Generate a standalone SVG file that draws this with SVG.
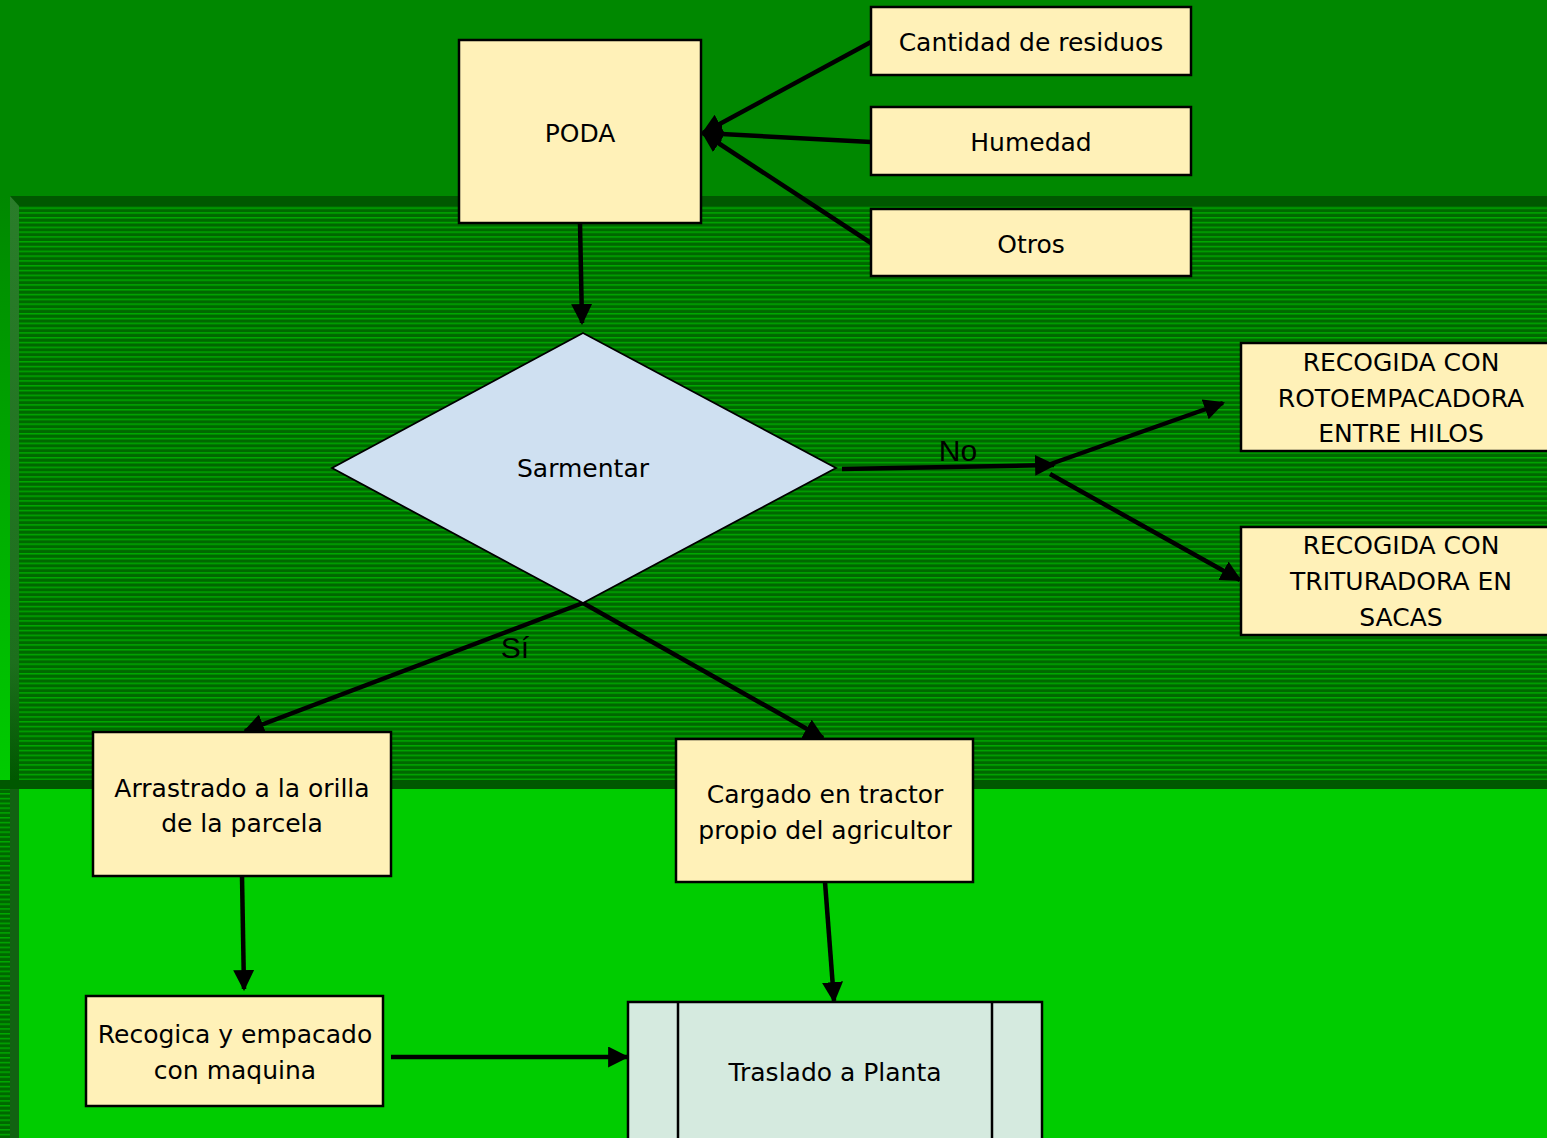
<svg xmlns="http://www.w3.org/2000/svg" width="1547" height="1138" viewBox="0 0 1547 1138">
<defs>
<style>
.box{fill:#fff1b8;stroke:#000;stroke-width:2.5}
.t{font-family:"DejaVu Sans",Verdana,sans-serif;font-size:25px;fill:#000;text-anchor:middle}
.lbl{font-family:"Liberation Sans",Arial,sans-serif;font-size:30px;fill:#000;text-anchor:middle}
.c{fill:none;stroke:#000;stroke-width:4.5}
</style>
<marker id="ah" viewBox="0 0 10 10" refX="9" refY="5" markerWidth="21" markerHeight="21" markerUnits="userSpaceOnUse" orient="auto">
<path d="M0,0 L10,5 L0,10 z" fill="#000"/>
</marker>
<pattern id="stripes" width="20" height="4.8" patternUnits="userSpaceOnUse" y="1">
<rect width="20" height="4.8" fill="#006800"/>
<rect y="0" width="20" height="1.5" fill="#00a800"/>
</pattern>
<linearGradient id="leftg" x1="0" y1="0" x2="0" y2="1">
<stop offset="0" stop-color="#008800"/>
<stop offset="1" stop-color="#00cc00"/>
</linearGradient>
<linearGradient id="stripg" x1="0" y1="0" x2="0" y2="1">
<stop offset="0" stop-color="#2a7d2a"/>
<stop offset="0.8" stop-color="#1d6f1d"/>
<stop offset="1" stop-color="#005800"/>
</linearGradient>
</defs>
<g id="background">
<rect x="0" y="0" width="1547" height="1138" fill="#00cc00"/>
<rect x="0" y="0" width="1547" height="196" fill="#008800"/>
<rect x="0" y="196" width="10" height="584" fill="url(#leftg)"/>
<rect x="10" y="196" width="1537" height="10" fill="#005800"/>
<rect x="19" y="206" width="1528" height="574" fill="url(#stripes)"/>
<polygon points="10,196 19,206 19,780 10,780" fill="url(#stripg)"/>
<rect x="0" y="780" width="1547" height="9" fill="#005800"/>
<rect x="0" y="789" width="10" height="349" fill="url(#stripes)"/>
<rect x="10" y="789" width="9" height="349" fill="#126212"/>
</g>
<g id="connectors">
<line class="c" x1="871" y1="42" x2="703" y2="133" marker-end="url(#ah)"/>
<line class="c" x1="871" y1="142" x2="703" y2="133" marker-end="url(#ah)"/>
<line class="c" x1="871" y1="243" x2="703" y2="133" marker-end="url(#ah)"/>
<line class="c" x1="580" y1="223" x2="582" y2="323" marker-end="url(#ah)"/>
<line class="c" x1="842" y1="469" x2="1054" y2="465" marker-end="url(#ah)"/>
<line class="c" x1="1045" y1="466" x2="1223" y2="403" marker-end="url(#ah)"/>
<line class="c" x1="1050" y1="474" x2="1240" y2="580" marker-end="url(#ah)"/>
<line class="c" x1="583" y1="603" x2="245" y2="731" marker-end="url(#ah)"/>
<line class="c" x1="583" y1="603" x2="823" y2="738" marker-end="url(#ah)"/>
<line class="c" x1="242" y1="876" x2="244" y2="989" marker-end="url(#ah)"/>
<line class="c" x1="391" y1="1057" x2="627" y2="1057" marker-end="url(#ah)"/>
<line class="c" x1="825" y1="882" x2="834" y2="1001" marker-end="url(#ah)"/>
<text class="lbl" x="958" y="461">No</text>
<text class="lbl" x="515" y="658">Sí</text>
</g>
<g id="poda">
<rect class="box" x="459" y="40" width="242" height="183"/>
<text class="t" x="580" y="142">PODA</text>
</g>
<g id="cantidad">
<rect class="box" x="871" y="7" width="320" height="68"/>
<text class="t" x="1031" y="51">Cantidad de residuos</text>
</g>
<g id="humedad">
<rect class="box" x="871" y="107" width="320" height="68"/>
<text class="t" x="1031" y="151">Humedad</text>
</g>
<g id="otros">
<rect class="box" x="871" y="209" width="320" height="67"/>
<text class="t" x="1031" y="253">Otros</text>
</g>
<g id="sarmentar">
<polygon points="583,333 836,468 583,603 332,468" fill="#cfe0f1" stroke="#000" stroke-width="1.8"/>
<text class="t" x="583" y="477">Sarmentar</text>
</g>
<g id="rotoempacadora">
<rect class="box" x="1241" y="343" width="310" height="108"/>
<text class="t" x="1401" y="371">RECOGIDA CON</text>
<text class="t" x="1401" y="407">ROTOEMPACADORA</text>
<text class="t" x="1401" y="442">ENTRE HILOS</text>
</g>
<g id="trituradora">
<rect class="box" x="1241" y="527" width="310" height="108"/>
<text class="t" x="1401" y="554">RECOGIDA CON</text>
<text class="t" x="1401" y="590">TRITURADORA EN</text>
<text class="t" x="1401" y="626">SACAS</text>
</g>
<g id="arrastrado">
<rect class="box" x="93" y="732" width="298" height="144"/>
<text class="t" x="242" y="797">Arrastrado a la orilla</text>
<text class="t" x="242" y="832">de la parcela</text>
</g>
<g id="cargado">
<rect class="box" x="676" y="739" width="297" height="143"/>
<text class="t" x="825" y="803">Cargado en tractor</text>
<text class="t" x="825" y="839">propio del agricultor</text>
</g>
<g id="recogica">
<rect class="box" x="86" y="996" width="297" height="110"/>
<text class="t" x="235" y="1043">Recogica y empacado</text>
<text class="t" x="235" y="1079">con maquina</text>
</g>
<g id="traslado">
<rect x="628" y="1002" width="414" height="150" fill="#d5eadf" stroke="#000" stroke-width="2.5"/>
<line x1="678" y1="1002" x2="678" y2="1138" stroke="#000" stroke-width="2.5"/>
<line x1="992" y1="1002" x2="992" y2="1138" stroke="#000" stroke-width="2.5"/>
<text class="t" x="835" y="1081">Traslado a Planta</text>
</g>
</svg>
